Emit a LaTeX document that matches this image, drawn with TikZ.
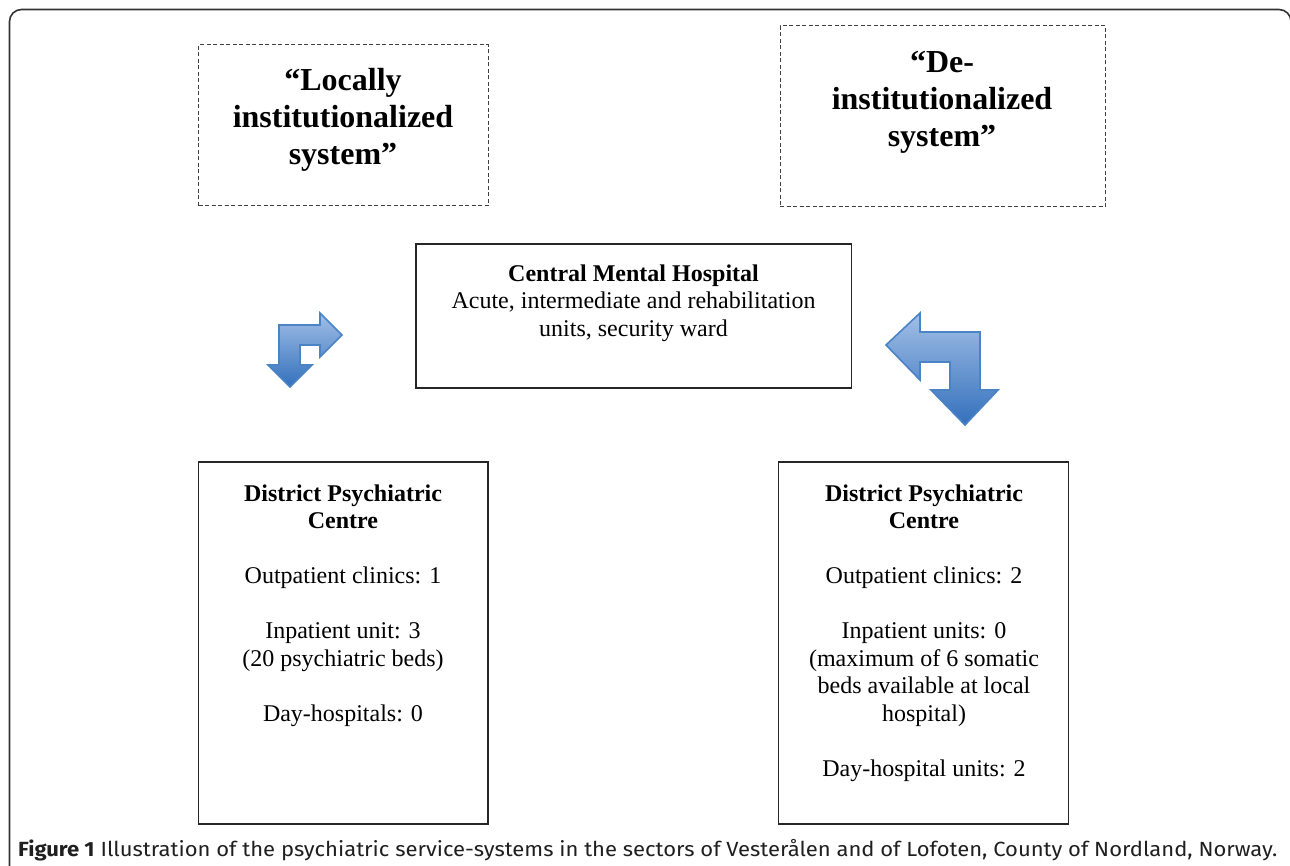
\documentclass[tikz,border=0pt]{standalone}
\usepackage{fontspec}
\setmainfont{Liberation Serif}
\newfontfamily\capfont{Fira Sans}
\definecolor{arrlight}{HTML}{A2BFE6}
\definecolor{arrdark}{HTML}{3370BC}
\definecolor{arredge}{HTML}{4A83C6}
\definecolor{framec}{HTML}{333333}
\begin{document}
\begin{tikzpicture}[x=1pt,y=-1pt,
  dashbox/.style={draw=black!75, line width=1pt, dash pattern=on 4pt off 2.5pt, minimum width=#1, inner sep=0pt},
  solidbox/.style={draw=black!85, line width=1.3pt, inner sep=0pt},
  bigtxt/.style={font=\fontsize{32}{37}\selectfont\bfseries, inner sep=0pt, anchor=base},
  txt/.style={font=\fontsize{24}{27.5}\selectfont, inner sep=0pt, anchor=base},
  btxt/.style={font=\fontsize{24}{27.5}\selectfont\bfseries, inner sep=0pt, anchor=base},
  bentarrow/.style={draw=arredge, line width=1.6pt, line join=miter, top color=arrlight, bottom color=arrdark}
]
\useasboundingbox (0,0) rectangle (1290,866);
\clip (0,0) rectangle (1290,866);
\fill[white] (0,0) rectangle (1290,866);
% outer frame
\draw[framec, line width=1.6pt, rounded corners=12pt] (9.5,9.5) rectangle (1291,895);

% dashed boxes
\node[dashbox=289.5pt, minimum height=161pt] (lbox) at (343.25,125.5) {};
\node[dashbox=325.5pt, minimum height=181pt] (rbox) at (942.75,116.5) {};
\node[bigtxt] (l1) at (343,91) {“Locally};
\node[bigtxt] (l2) at (343,128) {institutionalized};
\node[bigtxt] (l3) at (343,164.5) {system”};
\node[bigtxt] (r1) at (942,73) {“De-};
\node[bigtxt] (r2) at (942,110) {institutionalized};
\node[bigtxt] (r3) at (942,146.5) {system”};

% central box
\node[solidbox, minimum width=435.5pt, minimum height=144pt] (cmh) at (633.75,316) {};
\node[btxt] (c1) at (633.5,281.5) {Central Mental Hospital};
\node[txt] (c2) at (633.5,309) {Acute, intermediate and rehabilitation};
\node[txt] (c3) at (633.5,336.5) {units, security ward};

% bottom boxes
\node[solidbox, minimum width=289.5pt, minimum height=362pt] (dpl) at (343.25,643) {};
\node[solidbox, minimum width=289.5pt, minimum height=362pt] (dpr) at (923.5,643) {};

\node[btxt] (a1) at (343,501) {District Psychiatric};
\node[btxt] (a2) at (343,528.5) {Centre};
\node[txt] (a3) at (343,583.5) {Outpatient clinics: 1};
\node[txt] (a4) at (343,638.5) {Inpatient unit: 3};
\node[txt] (a5) at (343,666) {(20 psychiatric beds)};
\node[txt] (a6) at (343,721) {Day-hospitals: 0};

\node[btxt] (b1) at (924,501) {District Psychiatric};
\node[btxt] (b2) at (924,528.5) {Centre};
\node[txt] (b3) at (924,583.5) {Outpatient clinics: 2};
\node[txt] (b4) at (924,638.5) {Inpatient units: 0};
\node[txt] (b5) at (924,666) {(maximum of 6 somatic};
\node[txt] (b6) at (924,693.5) {beds available at local};
\node[txt] (b7) at (924,721) {hospital)};
\node[txt] (b8) at (924,776) {Day-hospital units: 2};

% bent arrows
\draw[bentarrow] (342,335) -- (320,313) -- (320,325) -- (279,325) -- (279,365) -- (268,365)
  -- (290,387) -- (312,365) -- (300,365) -- (300,345) -- (320,345) -- (320,357) -- cycle;
\draw[bentarrow] (886,345) -- (920,313) -- (920,332) -- (980,332) -- (980,390) -- (998,390)
  -- (965,425) -- (931,390) -- (950,390) -- (950,362) -- (920,362) -- (920,380) -- cycle;

% caption
\node[anchor=base west, inner sep=0pt, text=black!88] (cap) at (18,856)
  {\resizebox{1259pt}{\height}{\capfont\fontsize{20.5}{24}\selectfont\textbf{Figure 1} Illustration of the psychiatric service-systems in the sectors of Vesterålen and of Lofoten, County of Nordland, Norway.}};
\end{tikzpicture}
\end{document}
